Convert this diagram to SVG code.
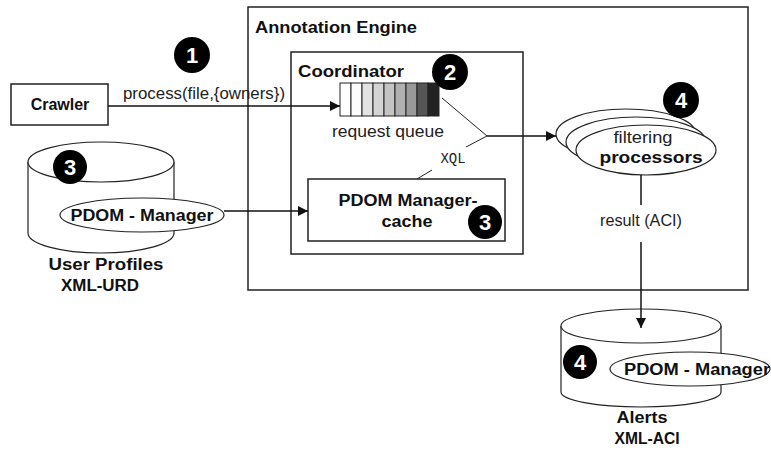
<svg xmlns="http://www.w3.org/2000/svg" width="771" height="452" viewBox="0 0 771 452">
<style>
.box{fill:#fff;stroke:#222;stroke-width:1.5}
.thin{fill:#fff;stroke:#222;stroke-width:1.2}
.ln{fill:none;stroke:#111;stroke-width:1.5}
.dl{fill:none;stroke:#222;stroke-width:1}
.b{font-family:"Liberation Sans",Arial,sans-serif;font-weight:bold;font-size:16px;fill:#111}
.n{font-family:"Liberation Sans",Arial,sans-serif;font-size:16px;fill:#222}
.m{font-family:"Liberation Mono","Courier New",monospace;font-size:14px;fill:#222}
.badge circle{fill:#000}
.badge text{font-family:"Liberation Sans",Arial,sans-serif;font-weight:bold;font-size:22px;fill:#fff;text-anchor:middle}
.c{text-anchor:middle}
</style>
<defs>
<marker id="arr" viewBox="0 0 10 10" refX="10" refY="5" markerWidth="10" markerHeight="10" markerUnits="userSpaceOnUse" orient="auto">
<path d="M0,0 L10,5 L0,10 z" fill="#111"/>
</marker>
</defs>
<rect width="771" height="452" fill="#fff"/>

<g id="annotation-engine">
<rect class="box" x="248" y="7" width="500" height="283"/>
<text class="b" x="255" y="33" textLength="162" lengthAdjust="spacingAndGlyphs">Annotation Engine</text>
</g>

<g id="coordinator">
<rect class="box" x="291" y="52" width="232" height="202"/>
<text class="b" x="298" y="77" textLength="106" lengthAdjust="spacingAndGlyphs">Coordinator</text>
</g>

<g id="request-queue">
<rect x="340" y="83" width="11" height="33" fill="#fff" stroke="#222"/>
<rect x="351" y="83" width="11" height="33" fill="#fbfbfb" stroke="#222"/>
<rect x="362" y="83" width="11" height="33" fill="#e2e2e2" stroke="#222"/>
<rect x="373" y="83" width="11" height="33" fill="#d4d4d4" stroke="#222"/>
<rect x="384" y="83" width="11" height="33" fill="#c4c4c4" stroke="#222"/>
<rect x="395" y="83" width="11" height="33" fill="#b0b0b0" stroke="#222"/>
<rect x="406" y="83" width="11" height="33" fill="#9a9a9a" stroke="#222"/>
<rect x="417" y="83" width="11" height="33" fill="#555" stroke="#222"/>
<rect x="428" y="83" width="11" height="33" fill="#222" stroke="#222"/>
<text class="n c" x="388" y="137" font-size="17" textLength="112" lengthAdjust="spacingAndGlyphs">request queue</text>
</g>

<g id="crawler">
<rect class="box" x="11" y="84" width="97" height="41"/>
<text class="b c" x="60" y="110">Crawler</text>
</g>

<g id="pdom-cache">
<rect class="box" x="308" y="179" width="197" height="62"/>
<text class="b c" x="408" y="206" textLength="139" lengthAdjust="spacingAndGlyphs">PDOM Manager-</text>
<text class="b c" x="407" y="227" textLength="51" lengthAdjust="spacingAndGlyphs">cache</text>
</g>

<g id="user-profiles">
<path class="thin" d="M28,162 L28,233 A73,20 0 0 0 174,233 L174,162"/>
<ellipse class="thin" cx="101" cy="162" rx="73" ry="20"/>
<ellipse class="thin" cx="142" cy="215" rx="82" ry="17"/>
<text class="b c" x="142" y="221" textLength="143" lengthAdjust="spacingAndGlyphs">PDOM - Manager</text>
<text class="b c" x="106" y="270" textLength="115" lengthAdjust="spacingAndGlyphs">User Profiles</text>
<text class="b c" x="100" y="291" textLength="78" lengthAdjust="spacingAndGlyphs">XML-URD</text>
</g>

<g id="filtering-processors">
<ellipse class="thin" cx="626" cy="134" rx="70" ry="25"/>
<ellipse class="thin" cx="636" cy="142" rx="70" ry="25"/>
<ellipse class="thin" cx="646" cy="150" rx="70" ry="25"/>
<text class="n c" x="643" y="143" font-size="17" textLength="59" lengthAdjust="spacingAndGlyphs">filtering</text>
<text class="b c" x="651" y="163" font-size="18" textLength="103" lengthAdjust="spacingAndGlyphs">processors</text>
</g>

<g id="alerts">
<path class="thin" d="M561,326 L561,392 A80,15 0 0 0 721,392 L721,326"/>
<ellipse class="thin" cx="641" cy="326" rx="80" ry="17"/>
<ellipse class="thin" cx="690" cy="369" rx="80" ry="17"/>
<text class="b c" x="697" y="375" textLength="146" lengthAdjust="spacingAndGlyphs">PDOM - Manager</text>
<text class="b c" x="642" y="423" textLength="51" lengthAdjust="spacingAndGlyphs">Alerts</text>
<text class="b c" x="647" y="444" textLength="65" lengthAdjust="spacingAndGlyphs">XML-ACI</text>
</g>

<g id="connectors">
<line class="ln" x1="108" y1="106" x2="340" y2="106" marker-end="url(#arr)"/>
<text class="n" x="123" y="99" font-size="13" textLength="162" lengthAdjust="spacingAndGlyphs">process(file,{owners})</text>
<line class="ln" x1="224" y1="211" x2="308" y2="211" marker-end="url(#arr)"/>
<polyline class="dl" points="442,98 487,136 466,147"/>
<line class="dl" x1="432" y1="170" x2="417" y2="179"/>
<text class="m c" x="453" y="163">XQL</text>
<line class="ln" x1="487" y1="136" x2="556" y2="136" marker-end="url(#arr)"/>
<line class="ln" x1="641" y1="175" x2="641" y2="205"/>
<text class="n c" x="641" y="226" font-size="14" textLength="82" lengthAdjust="spacingAndGlyphs">result (ACI)</text>
<line class="ln" x1="641" y1="242" x2="641" y2="328" marker-end="url(#arr)"/>
</g>

<g id="badge-1" class="badge"><circle cx="192" cy="55" r="18"/><text x="192" y="63">1</text></g>
<g id="badge-2" class="badge"><circle cx="450" cy="72" r="18"/><text x="450" y="80">2</text></g>
<g id="badge-3a" class="badge"><circle cx="70" cy="167" r="17"/><text x="70" y="175">3</text></g>
<g id="badge-3b" class="badge"><circle cx="485" cy="222" r="17"/><text x="485" y="230">3</text></g>
<g id="badge-4a" class="badge"><circle cx="681" cy="100" r="18"/><text x="681" y="108">4</text></g>
<g id="badge-4b" class="badge"><circle cx="580" cy="362" r="17"/><text x="580" y="370">4</text></g>
</svg>
